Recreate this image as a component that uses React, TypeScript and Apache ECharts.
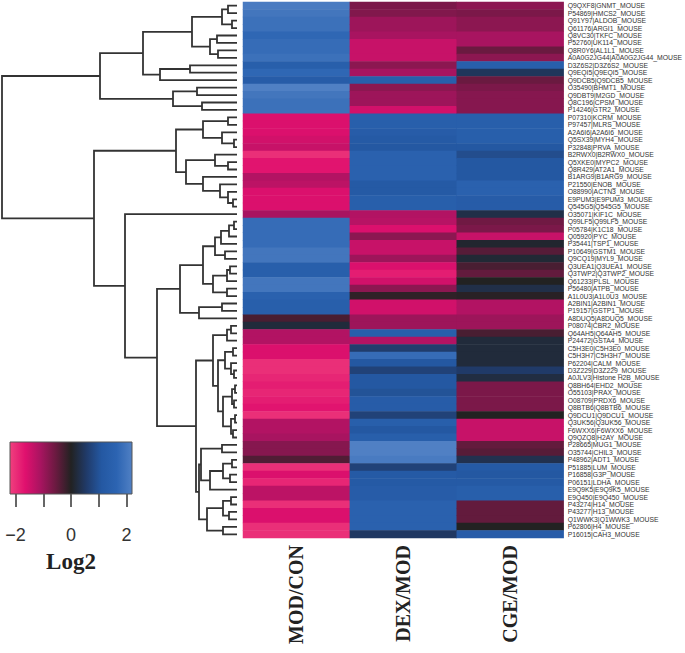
import React, { useEffect, useRef } from 'react';
import * as echarts from 'echarts';

const columns = ['MOD/CON', 'DEX/MOD', 'CGE/MOD'];

const proteins = [
  'Q9QXF8|GNMT_MOUSE', 'P54869|HMCS2_MOUSE', 'Q91Y97|ALDOB_MOUSE', 'Q61176|ARGI1_MOUSE',
  'Q8VC30|TKFC_MOUSE', 'P52760|UK114_MOUSE', 'Q8R0Y6|AL1L1_MOUSE', 'A0A0G2JG44|A0A0G2JG44_MOUSE',
  'D3Z6S2|D3Z6S2_MOUSE', 'Q9EQI5|Q9EQI5_MOUSE', 'Q9DCB5|Q9DCB5_MOUSE', 'O35490|BHMT1_MOUSE',
  'Q9DBT9|M2GD_MOUSE', 'Q8C196|CPSM_MOUSE', 'P14246|GTR2_MOUSE', 'P07310|KCRM_MOUSE',
  'P97457|MLRS_MOUSE', 'A2A6I6|A2A6I6_MOUSE', 'Q5SX39|MYH4_MOUSE', 'P32848|PRVA_MOUSE',
  'B2RWX0|B2RWX0_MOUSE', 'Q5XKE0|MYPC2_MOUSE', 'Q8R429|AT2A1_MOUSE', 'B1ARG9|B1ARG9_MOUSE',
  'P21550|ENOB_MOUSE', 'O88990|ACTN3_MOUSE', 'E9PUM3|E9PUM3_MOUSE', 'Q545G5|Q545G5_MOUSE',
  'O35071|KIF1C_MOUSE', 'Q99LF5|Q99LF5_MOUSE', 'P05784|K1C18_MOUSE', 'Q05920|PYC_MOUSE',
  'P35441|TSP1_MOUSE', 'P10649|GSTM1_MOUSE', 'Q9CQ19|MYL9_MOUSE', 'Q3UEA1|Q3UEA1_MOUSE',
  'Q3TWP2|Q3TWP2_MOUSE', 'Q61233|PLSL_MOUSE', 'P56480|ATPB_MOUSE', 'A1L0U3|A1L0U3_MOUSE',
  'A2BIN1|A2BIN1_MOUSE', 'P19157|GSTP1_MOUSE', 'A8DUQ5|A8DUQ5_MOUSE', 'P08074|CBR2_MOUSE',
  'Q64AH5|Q64AH5_MOUSE', 'P24472|GSTA4_MOUSE', 'C5H3E0|C5H3E0_MOUSE', 'C5H3H7|C5H3H7_MOUSE',
  'P62204|CALM_MOUSE', 'D3Z229|D3Z229_MOUSE', 'A0JLV3|Histone H2B_MOUSE', 'Q8BH64|EHD2_MOUSE',
  'O55103|PRAX_MOUSE', 'O08709|PRDX6_MOUSE', 'Q8BTB6|Q8BTB6_MOUSE', 'Q9DCU1|Q9DCU1_MOUSE',
  'Q3UK56|Q3UK56_MOUSE', 'F6WXX6|F6WXX6_MOUSE', 'Q9QZQ8|H2AY_MOUSE', 'P28665|MUG1_MOUSE',
  'O35744|CHIL3_MOUSE', 'P48962|ADT1_MOUSE', 'P51885|LUM_MOUSE', 'P16858|G3P_MOUSE',
  'P06151|LDHA_MOUSE', 'E9Q9K5|E9Q9K5_MOUSE', 'E9Q450|E9Q450_MOUSE', 'P43274|H14_MOUSE',
  'P43277|H13_MOUSE', 'Q1WWK3|Q1WWK3_MOUSE', 'P62806|H4_MOUSE', 'P16015|CAH3_MOUSE',
];

const modCon = [
  2.1, 2.0, 1.9, 1.9, 1.7, 1.8, 1.8, 1.9, 1.4, 1.7, 1.3, 2.2, 2.0, 1.9, 1.9,
  -1.6, -1.6, -1.6, -1.5, -1.4, -2.0, -1.7, -1.7, -1.2, -1.3, -1.6, -1.6, -1.6, -1.1,
  1.8, 1.8, 1.8, 1.8, 2.0, 2.0, 1.4, 1.4, 2.0, 2.0, 1.5, 1.4, 1.4, -0.3, 0.2,
  -1.2, -1.2, -1.6, -1.6, -2.0, -2.0, -1.9, -1.8, -1.9, -1.8, -1.7, -2.0, -1.2, -1.2, -1.1,
  -0.8, -0.8, -0.35, -2.0, -1.6, -1.9, -1.3, -1.3, -2.0, -1.6, -1.6, -2.0, -2.0,
];

const dexMod = [
  -0.7, -0.75, -1.0, -1.0, -1.1, -1.4, -1.4, -1.4, -0.85, -1.1, 1.4, -0.85, -1.0, -1.0, -1.5,
  1.4, 1.4, 1.3, 1.2, 1.1, 1.5, 1.5, 1.5, 1.5, 1.2, 1.2, 1.4, 1.4, -1.2,
  -1.25, -1.6, -0.85, -1.4, -1.4, -1.0, -1.6, -1.8, -1.5, -0.85, -0.1, -1.5, -1.5, -1.0, -1.0,
  1.4, -1.2, 0.6, 1.8, 1.1, 0.7, 1.1, 1.1, 1.0, 1.3, 1.3, 0.7, 1.4, 1.1, 1.4,
  2.2, 2.2, 2.1, 0.7, 1.2, 1.2, 1.3, 1.3, 1.5, 1.5, 1.5, 1.5, 0.5,
];

const cgeMod = [
  -0.85, -0.7, -0.85, -0.85, -1.1, -1.1, -0.55, -0.85, 1.4, 0.45, -0.55, -0.7, -0.8, -0.8, -0.8,
  1.4, 1.4, 1.4, 1.4, 1.1, 0.9, 1.1, 1.1, 1.1, 1.5, 1.5, 1.3, 1.3, 0.3,
  -0.6, -0.7, -1.4, 0.1, -0.4, 0.15, -0.3, -0.5, 0.0, 0.3, -0.05, -1.2, -1.2, -1.0, -1.0,
  -0.3, 0.2, 0.2, 0.2, 0.2, 0.55, 0.25, -0.7, -0.7, -0.7, -0.7, 0.0, -1.4, -1.4, -1.4,
  -0.5, -0.4, 0.35, 1.2, 1.1, 1.2, 1.4, 1.4, -0.5, -0.5, -0.5, 0.0, 1.3,
];

const scaleTicks = [-2, -1, 0, 1, 2];
const scaleLabels = [-2, 0, 2];
const scaleMin = -2.2;
const scaleMax = 2.2;
const scaleColors = ['#f0407e', '#e0106e', '#a81460', '#6a1a40', '#222222', '#203a68', '#2458a2', '#2c64b2', '#5080c4'];

// Row clustering: leaf = row number (1-based), node = [left, right, merge height]
type TreeNode = number | [TreeNode, TreeNode, number];
const dendrogram: TreeNode = [
  [
    [
      [[[1, 2, 9], [3, 4, 5], 15], [[5, 6, 20], [7, 8, 19], 27], 45],
      [[9, 10, 47], 11, 77],
      94,
    ],
    [[12, 13, 40], [14, 15, 35], 64],
    137,
  ],
  [
    [
      [[16, 17, 9], [18, [19, 20, 3], 15], 34],
      [[21, [22, 23, 9], 22], [24, [25, [26, [27, 28, 4], 9], 17], 34], 51],
      61,
    ],
    [
      29,
      [
        [
          [
            [[[[30, 31, 3], 32, 8], 33, 16], [34, 35, 12], 22],
            [[[36, 37, 7], 38, 10], [39, 40, 10], 24],
            34,
          ],
          [[41, 42, 15], 43, 38],
          57,
        ],
        [
          [
            [[44, 45, 6], 46, 10],
            [
              [[47, 48, 4], [49, [50, 51, 3], 6], 12],
              [[[52, 53, 2], [54, 55, 3], 5], [[56, 57, 2], [58, 59, 4], 6], 14],
              19,
            ],
            24,
          ],
          [
            [[60, 61, 15], [[[62, 63, 5], [64, 65, 7], 14], 66, 27], 36],
            [[[67, 68, 6], [69, 70, 8], 14], [71, 72, 14], 30],
            38,
          ],
          41,
        ],
        80,
      ],
      112,
    ],
    143,
  ],
  235,
];

function collectMerges(node: TreeNode, out: number[][]): { y: number; h: number } {
  if (typeof node === 'number') return { y: node - 0.5, h: 0 };
  const a = collectMerges(node[0], out);
  const b = collectMerges(node[1], out);
  out.push([node[2], a.y, b.y, a.h, b.h]);
  return { y: (a.y + b.y) / 2, h: node[2] };
}

export default function App() {
  const ref = useRef<HTMLDivElement>(null);

  useEffect(() => {
    if (!ref.current) return;
    const chart = echarts.init(ref.current, undefined, { renderer: 'svg' });

    const merges: number[][] = [];
    collectMerges(dendrogram, merges);

    const cols = [modCon, dexMod, cgeMod];
    const heat: number[][] = [];
    cols.forEach((arr, c) => arr.forEach((v, r) => heat.push([c, r, v])));

    const ink = '#333333';
    const hmLeft = 243, hmTop = 2, hmW = 322, hmH = 536;
    const lgLeft = 10, lgTop = 442, lgW = 122, lgH = 52;

    const gradStops = scaleColors.map((color, i) => ({ offset: i / (scaleColors.length - 1), color }));

    chart.setOption({
      animation: false,
      backgroundColor: '#ffffff',
      grid: [
        { left: hmLeft, top: hmTop, width: hmW, height: hmH },
        { left: 2, top: hmTop, width: 235, height: hmH },
        { left: lgLeft, top: lgTop, width: lgW, height: lgH },
      ],
      xAxis: [
        {
          gridIndex: 0,
          type: 'category',
          data: columns,
          axisLine: { show: false },
          axisTick: { show: false },
          splitLine: { show: false },
          axisLabel: {
            rotate: 90,
            margin: 7,
            fontFamily: 'Liberation Serif',
            fontWeight: 'bold',
            fontSize: 20,
            color: '#222',
          },
        },
        { gridIndex: 1, type: 'value', min: 0, max: 235, inverse: true, show: false },
        {
          gridIndex: 2,
          type: 'value',
          min: scaleMin,
          max: scaleMax,
          position: 'bottom',
          axisLine: { show: false },
          splitLine: { show: false },
          axisTick: {
            show: true,
            customValues: scaleTicks,
            length: 13,
            lineStyle: { color: ink, width: 1.5 },
          },
          axisLabel: {
            customValues: scaleLabels,
            margin: 32,
            fontFamily: 'Liberation Sans',
            fontSize: 18,
            color: ink,
            formatter: (v: number) => (v < 0 ? '\u2212' + Math.abs(v) : String(v)),
          },
          name: 'Log2',
          nameLocation: 'middle',
          nameGap: 56,
          nameTextStyle: {
            fontFamily: 'Liberation Serif',
            fontWeight: 'bold',
            fontSize: 23,
            color: '#222',
          },
        },
      ],
      yAxis: [
        {
          gridIndex: 0,
          type: 'category',
          data: proteins,
          inverse: true,
          position: 'right',
          axisLine: { show: false },
          axisTick: { show: false },
          splitLine: { show: false },
          axisLabel: {
            interval: 0,
            margin: 4,
            fontFamily: 'Liberation Sans',
            fontSize: 6.8,
            color: ink,
          },
        },
        { gridIndex: 1, type: 'value', min: 0, max: proteins.length, inverse: true, show: false },
        { gridIndex: 2, type: 'value', min: 0, max: 1, show: false },
      ],
      visualMap: {
        show: false,
        type: 'continuous',
        min: scaleMin,
        max: scaleMax,
        dimension: 2,
        seriesIndex: 0,
        inRange: { color: scaleColors },
      },
      graphic: [
        {
          type: 'rect',
          shape: { x: lgLeft, y: lgTop, width: lgW, height: lgH },
          style: {
            fill: new echarts.graphic.LinearGradient(0, 0, 1, 0, gradStops),
            stroke: '#555',
            lineWidth: 1,
          },
          z: 10,
        },
      ],
      series: [
        {
          type: 'heatmap',
          xAxisIndex: 0,
          yAxisIndex: 0,
          data: heat,
          itemStyle: { borderWidth: 0 },
          emphasis: { disabled: true },
        },
        {
          type: 'custom',
          xAxisIndex: 1,
          yAxisIndex: 1,
          clip: false,
          encode: { x: [0, 3, 4], y: [1, 2] },
          data: merges,
          renderItem: (params: any, api: any) => {
            const h = api.value(0);
            const yA = api.value(1);
            const yB = api.value(2);
            const hA = api.value(3);
            const hB = api.value(4);
            const pts = [api.coord([hA, yA]), api.coord([h, yA]), api.coord([h, yB]), api.coord([hB, yB])];
            return {
              type: 'polyline',
              shape: { points: pts },
              style: { stroke: ink, lineWidth: 1.8, fill: null },
            };
          },
        },
      ],
    });

    return () => chart.dispose();
  }, []);

  return (
    <div
      ref={ref}
      style={{ position: 'fixed', left: 0, top: 0, width: 685, height: 653, background: '#fff' }}
    />
  );
}
